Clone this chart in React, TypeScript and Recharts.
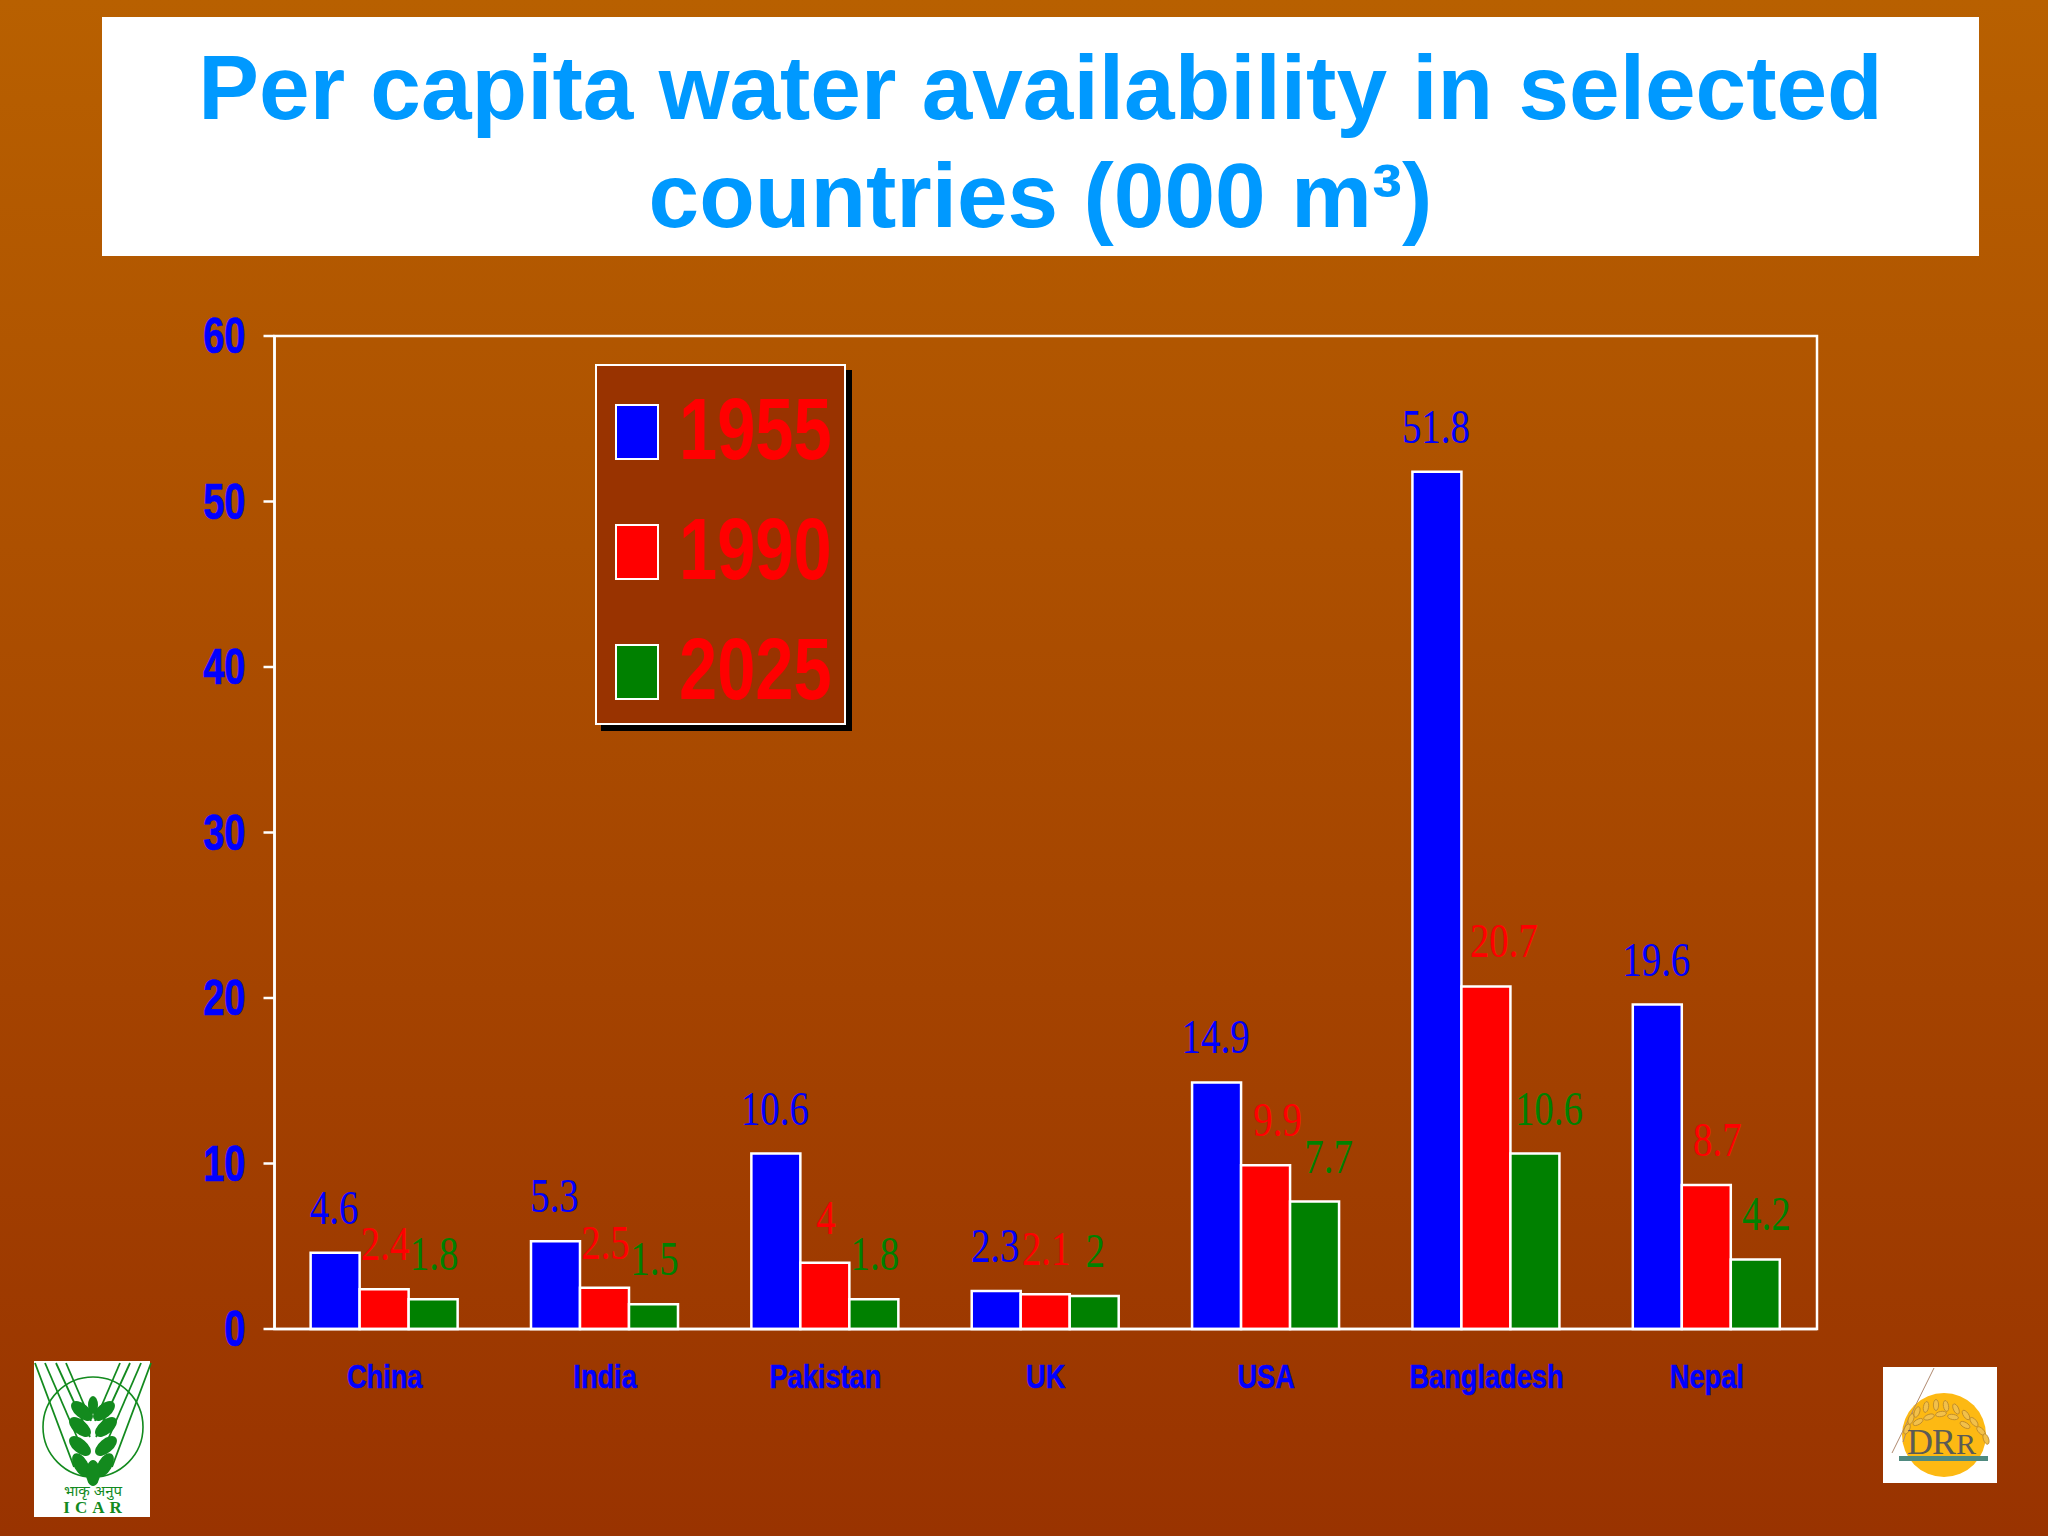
import { Bar, BarChart, LabelList, Legend, ReferenceArea, XAxis, YAxis } from "recharts";

const countries = ["China", "India", "Pakistan", "UK", "USA", "Bangladesh", "Nepal"];
const y1955 = [4.6, 5.3, 10.6, 2.3, 14.9, 51.8, 19.6];
const y1990 = [2.4, 2.5, 4, 2.1, 9.9, 20.7, 8.7];
const y2025 = [1.8, 1.5, 1.8, 2, 7.7, 10.6, 4.2];
const yTicks = [0, 10, 20, 30, 40, 50, 60];

const rows = countries.map((name, i) => ({
  name,
  a: y1955[i],
  b: y1990[i],
  c: y2025[i],
}));

// a few labels sit off-centre on the original slide
const nudge1955 = [-1, -1, -1, -1, -1, -1, -1];
const nudge1990 = [1, 1, 1, 1, 12, 18, 11];
const nudge2025 = [1, 1, 1, 1, 14, 14, 11];

const SANS = "'Liberation Sans', sans-serif";
const BLUE = "#0000ff";
const RED = "#ff0000";
const GREEN = "#008000";

function valueLabel(color: string, shift: number[]) {
  return (p: any) => {
    const cx = p.x + p.width / 2 + shift[p.index];
    return (
      <text
        transform={`translate(${cx},${p.y - 29}) scale(0.81,1)`}
        textAnchor="middle"
        fontFamily="'Liberation Serif', serif"
        fontSize={48}
        fill={color}
      >
        {p.value}
      </text>
    );
  };
}

// no narrow face is installed, so squeeze the bold sans instead
function YTick({ x, y, payload }: any) {
  return (
    <text
      transform={`translate(${x},${y - 1}) scale(0.76,1)`}
      dy="0.36em"
      textAnchor="end"
      fontFamily={SANS}
      fontWeight={700}
      fontSize={50}
      fill={BLUE}
      stroke={BLUE}
      strokeWidth={0.7}
    >
      {payload.value}
    </text>
  );
}

function XTick({ x, y, payload }: any) {
  return (
    <text
      transform={`translate(${x},${y - 1}) scale(0.8,1)`}
      dy="0.72em"
      textAnchor="middle"
      fontFamily={SANS}
      fontWeight={700}
      fontSize={34}
      fill={BLUE}
      stroke={BLUE}
      strokeWidth={0.5}
    >
      {payload.value}
    </text>
  );
}

function LegendBox({ payload }: any) {
  return (
    <div
      style={{
        width: 251,
        height: 361,
        boxSizing: "border-box",
        background: "#993300",
        border: "2.5px solid #fff",
        boxShadow: "6px 6px 0 #000",
        position: "relative",
      }}
    >
      {(payload ?? []).map((e: any, i: number) => (
        <div key={e.value}>
          <div
            style={{
              position: "absolute",
              left: 18,
              top: 38 + i * 120,
              width: 44,
              height: 56,
              boxSizing: "border-box",
              background: e.color,
              border: "2.5px solid #fff",
            }}
          />
          <div
            style={{
              position: "absolute",
              left: 82,
              top: 13 + i * 120,
              lineHeight: "100px",
              fontFamily: SANS,
              fontWeight: 700,
              fontSize: 88,
              color: RED,
              transform: "scaleX(0.78)",
              transformOrigin: "left center",
            }}
          >
            {e.value}
          </div>
        </div>
      ))}
    </div>
  );
}

function IcarLogo() {
  const g = "#138a1e";
  const leaves = [
    [47, 104, 60], [71, 104, -60], [46, 85, 40], [72, 85, -40],
    [46, 66, 40], [72, 66, -40], [48, 50, 40], [70, 50, -40],
  ];
  return (
    <svg width={116} height={156} overflow="visible" style={{ position: "absolute", left: 34, top: 1361, background: "#fff" }}>
      <circle cx={59} cy={66} r={50} fill="none" stroke={g} strokeWidth={1.6} />
      {[[1, 40, 106], [11, 49, 90], [22, 56, 76], [32, 57, 60]].map(([x1, x2, y2]) => (
        <g key={x1} stroke={g} strokeWidth={1.8}>
          <line x1={x1} y1={2} x2={x2} y2={y2} />
          <line x1={118 - x1} y1={2} x2={118 - x2} y2={y2} />
        </g>
      ))}
      {leaves.map(([x, y, r]) => (
        <ellipse key={`${x}-${y}`} cx={x} cy={y} rx={13} ry={7} fill={g} transform={`rotate(${r} ${x} ${y})`} />
      ))}
      <ellipse cx={59} cy={112} rx={7} ry={13} fill={g} />
      <ellipse cx={59} cy={44} rx={5} ry={9} fill={g} />
      <text x={59} y={135} textAnchor="middle" fontFamily="'Noto Sans', sans-serif" fontSize={15} fill={g}>भाकृ अनुप</text>
      <text x={61} y={152} textAnchor="middle" fontFamily="'Liberation Serif', serif" fontWeight={700} fontSize={17} letterSpacing={5} fill={g}>ICAR</text>
    </svg>
  );
}

function DrrLogo() {
  const grains = [
    [24, 62, 25], [28, 52, 20], [34, 45, 20], [43, 40, 10], [53, 38, 0], [63, 39, -10], [73, 42, -25],
    [83, 48, -35], [91, 55, -40], [98, 64, -45], [103, 72, -20], [35, 55, 60], [46, 50, 70], [58, 47, 80], [70, 50, 100], [82, 58, 120],
  ];
  return (
    <svg width={114} height={116} style={{ position: "absolute", left: 1883, top: 1367, background: "#fff" }}>
      <circle cx={61} cy={68} r={42} fill="#fdb913" />
      <line x1={51} y1={1} x2={9} y2={86} stroke="#b08a70" strokeWidth={1} />
      <line x1={20} y1={75} x2={30} y2={45} stroke="#b08a70" strokeWidth={1} />
      {grains.map(([x, y, r]) => (
        <ellipse key={`${x}-${y}`} cx={x} cy={y} rx={2.6} ry={5.5} fill="#f2c04a" stroke="#b8862b" strokeWidth={0.8} transform={`rotate(${r} ${x} ${y})`} />
      ))}
      <text x={24} y={87} fontFamily="'Liberation Serif', serif" fontSize={36} fill="#5b5b55">D</text>
      <text x={49} y={87} fontFamily="'Liberation Serif', serif" fontSize={36} fill="#5b5b55">R</text>
      <text x={73} y={87} fontFamily="'Liberation Serif', serif" fontSize={30} fill="#5b5b55">R</text>
      <rect x={16} y={89} width={89} height={5} fill="#4f8a80" />
    </svg>
  );
}

export default function App() {
  return (
    <div
      style={{
        position: "absolute",
        left: 0,
        top: 0,
        width: 2048,
        height: 1536,
        overflow: "hidden",
        background: "linear-gradient(180deg, #b86000 0%, #993300 100%)",
      }}
    >
      <div
        style={{
          position: "absolute",
          left: 102,
          top: 17,
          width: 1877,
          height: 239,
          background: "#fff",
          color: "#0099ff",
          textAlign: "center",
          fontFamily: SANS,
          fontWeight: 700,
          fontSize: 91,
          lineHeight: "108px",
          paddingTop: 17,
          boxSizing: "border-box",
        }}
      >
        Per capita water availability in selected
        <br />
        countries (000 m³)
      </div>

      <BarChart
        width={2048}
        height={1536}
        data={rows}
        margin={{ top: 336, right: 231, bottom: 107, left: 0 }}
        barCategoryGap="16.4%"
        barGap={0}
        style={{ position: "absolute", left: 0, top: 0 }}
      >
        <XAxis
          dataKey="name"
          height={100}
          axisLine={{ stroke: "#fff", strokeWidth: 2.5 }}
          tickLine={false}
          tickMargin={30}
          interval={0}
          tick={<XTick />}
        />
        <YAxis
          width={274.5}
          domain={[0, 60]}
          ticks={yTicks}
          axisLine={{ stroke: "#fff", strokeWidth: 2.5 }}
          tickLine={{ stroke: "#fff", strokeWidth: 2.5 }}
          tickSize={11}
          tickMargin={18}
          tick={<YTick />}
        />
        <ReferenceArea y1={0} y2={60} fill="none" stroke="#fff" strokeWidth={2.5} />
        <Legend
          content={<LegendBox />}
          layout="horizontal"
          verticalAlign="middle"
          wrapperStyle={{ position: "absolute", left: 595, top: 364, width: 251, height: 361, bottom: "auto" }}
        />
        <Bar dataKey="a" name="1955" fill={BLUE} stroke="#fff" strokeWidth={2.5} isAnimationActive={false}>
          <LabelList dataKey="a" content={valueLabel(BLUE, nudge1955)} />
        </Bar>
        <Bar dataKey="b" name="1990" fill={RED} stroke="#fff" strokeWidth={2.5} isAnimationActive={false}>
          <LabelList dataKey="b" content={valueLabel(RED, nudge1990)} />
        </Bar>
        <Bar dataKey="c" name="2025" fill={GREEN} stroke="#fff" strokeWidth={2.5} isAnimationActive={false}>
          <LabelList dataKey="c" content={valueLabel(GREEN, nudge2025)} />
        </Bar>
      </BarChart>

      <IcarLogo />
      <DrrLogo />
    </div>
  );
}
